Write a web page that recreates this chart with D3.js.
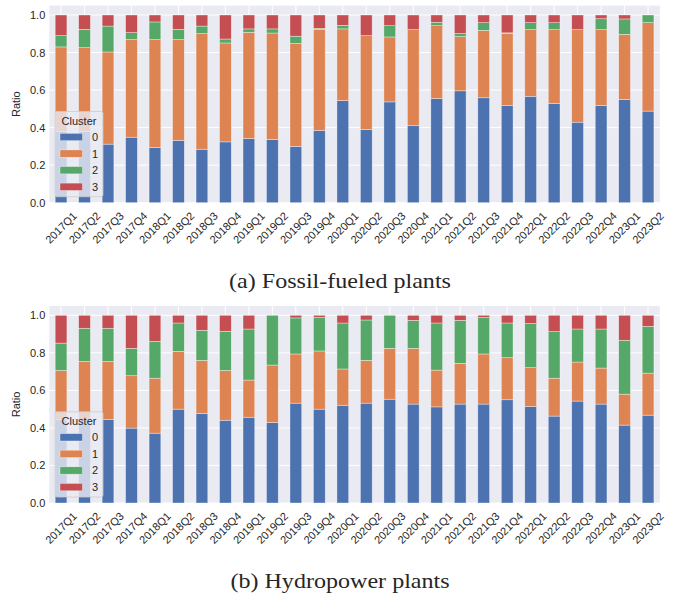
<!DOCTYPE html>
<html>
<head>
<meta charset="utf-8">
<script src="https://cdn.jsdelivr.net/npm/d3@7"></script>
<style>
  html, body { margin: 0; padding: 0; background: #fff; }
  svg { display: block; }
  text { font-family: "Liberation Sans", Arial, sans-serif; fill: #262626; }
</style>
</head>
<body>
<svg id="chart" width="675" height="599"></svg>
<script>
const categories = ["2017Q1","2017Q2","2017Q3","2017Q4","2018Q1","2018Q2","2018Q3","2018Q4",
  "2019Q1","2019Q2","2019Q3","2019Q4","2020Q1","2020Q2","2020Q3","2020Q4",
  "2021Q1","2021Q2","2021Q3","2021Q4","2022Q1","2022Q2","2022Q3","2022Q4","2023Q1","2023Q2"];
const clusters = ["0","1","2","3"];
const clusterColors = ["#4C72B0","#DD8452","#55A868","#C44E52"];
const yTicks = [0, 0.2, 0.4, 0.6, 0.8, 1.0];

// Fossil-fueled plants: ratio of each cluster per quarter
const fossil0 = [0.380,0.380,0.312,0.349,0.294,0.332,0.285,0.324,0.342,0.337,0.300,0.385,0.544,0.390,0.537,0.410,0.555,0.596,0.559,0.518,0.567,0.528,0.429,0.518,0.550,0.488];
const fossil1 = [0.450,0.446,0.491,0.520,0.575,0.537,0.616,0.527,0.566,0.567,0.548,0.539,0.382,0.500,0.346,0.512,0.388,0.289,0.359,0.384,0.355,0.394,0.493,0.404,0.347,0.471];
const fossil2 = [0.060,0.098,0.138,0.037,0.094,0.055,0.040,0.021,0.018,0.022,0.039,0.005,0.019,0.000,0.060,0.000,0.018,0.016,0.041,0.003,0.037,0.037,0.000,0.058,0.082,0.041];
const fossil3 = [0.110,0.076,0.059,0.094,0.037,0.076,0.059,0.128,0.074,0.074,0.113,0.071,0.055,0.110,0.057,0.078,0.039,0.099,0.041,0.095,0.041,0.041,0.078,0.020,0.021,0.000];

// Hydropower plants
const hydro0 = [0.443,0.443,0.445,0.399,0.372,0.500,0.477,0.441,0.457,0.429,0.532,0.500,0.521,0.532,0.553,0.527,0.512,0.527,0.527,0.550,0.514,0.463,0.543,0.527,0.415,0.468];
const hydro1 = [0.263,0.311,0.309,0.279,0.293,0.308,0.283,0.265,0.198,0.306,0.262,0.310,0.193,0.228,0.271,0.297,0.196,0.217,0.267,0.224,0.207,0.202,0.208,0.192,0.165,0.224];
const hydro2 = [0.146,0.177,0.177,0.146,0.196,0.151,0.160,0.209,0.272,0.265,0.192,0.178,0.245,0.215,0.176,0.149,0.251,0.229,0.194,0.185,0.235,0.248,0.176,0.208,0.287,0.249];
const hydro3 = [0.148,0.069,0.069,0.176,0.139,0.041,0.080,0.085,0.073,0.000,0.014,0.012,0.041,0.025,0.000,0.027,0.041,0.027,0.012,0.041,0.044,0.087,0.073,0.073,0.133,0.059];

const captionA = "(a) Fossil-fueled plants";
const captionB = "(b) Hydropower plants";

const svg = d3.select("#chart");

function panel(series, y0px, caption, captionY) {
  const x0 = 49.3, x1 = 659.8;
  const yTop = y0px - 1.05 * 187.7;
  const g = svg.append("g");
  const x = d3.scaleBand().domain(categories).range([x0, x1]).paddingInner(0.5).paddingOuter(0.25);
  const y = d3.scaleLinear().domain([0, 1.05]).range([y0px, yTop]);

  g.append("rect").attr("x", x0).attr("y", yTop).attr("width", x1 - x0).attr("height", y0px - yTop)
    .attr("fill", "#EAEAF2");

  // grid
  g.selectAll(".hg").data(yTicks).join("line")
    .attr("x1", x0).attr("x2", x1).attr("y1", d => y(d)).attr("y2", d => y(d))
    .attr("stroke", "#fff").attr("stroke-width", 1);
  g.selectAll(".vg").data(categories).join("line")
    .attr("x1", d => x(d) + x.bandwidth() / 2).attr("x2", d => x(d) + x.bandwidth() / 2)
    .attr("y1", yTop).attr("y2", y0px)
    .attr("stroke", "#fff").attr("stroke-width", 1);

  // stacked bars
  const rows = categories.map((c, i) => {
    const r = { cat: c };
    clusters.forEach((k, j) => r[k] = series[j][i]);
    return r;
  });
  const stack = d3.stack().keys(clusters)(rows);
  stack.forEach((layer, j) => {
    g.append("g").selectAll("rect").data(layer).join("rect")
      .attr("x", d => x(d.data.cat))
      .attr("width", x.bandwidth())
      .attr("y", d => y(d[1]))
      .attr("height", d => Math.max(0, y(d[0]) - y(d[1])))
      .attr("fill", clusterColors[j])
      .attr("stroke", "#fff").attr("stroke-opacity", 0.6).attr("stroke-width", 0.6);
  });

  // y axis
  const ya = g.append("g").attr("transform", `translate(${x0},0)`)
    .call(d3.axisLeft(y).tickValues(yTicks).tickFormat(d3.format(".1f")).tickSize(0).tickPadding(4));
  ya.select(".domain").remove();
  ya.selectAll("text").attr("font-size", 11).style("font-family", '"Liberation Sans", Arial, sans-serif').attr("fill", "#262626");

  g.append("text").attr("transform", `translate(20,${(y0px + yTop) / 2}) rotate(-90)`)
    .attr("text-anchor", "middle").attr("font-size", 11).text("Ratio");

  // x axis
  const xa = g.append("g").attr("transform", `translate(0,${y0px})`)
    .call(d3.axisBottom(x).tickSize(0).tickFormat(d => d));
  xa.select(".domain").remove();
  xa.selectAll("text")
    .attr("font-size", 11).style("font-family", '"Liberation Sans", Arial, sans-serif').attr("fill", "#262626")
    .attr("y", 0).attr("dy", "0.35em")
    .attr("text-anchor", "middle")
    .attr("transform", "translate(0,25) rotate(-45)");

  // legend
  const lg = g.append("g");
  const lx = 55, ly = y0px - 91.2, lw = 48, lh = 85.2;
  lg.append("rect").attr("x", lx).attr("y", ly).attr("width", lw).attr("height", lh)
    .attr("rx", 2).attr("fill", "#EAEAF2").attr("fill-opacity", 0.8)
    .attr("stroke", "#cccccc").attr("stroke-width", 0.8);
  lg.append("text").attr("x", lx + lw / 2).attr("y", ly + 13).attr("text-anchor", "middle")
    .attr("font-size", 11).text("Cluster");
  clusters.forEach((k, j) => {
    const cy = ly + 25.5 + j * 16.6;
    lg.append("rect").attr("x", 60).attr("y", cy - 3.7).attr("width", 22.5).attr("height", 7.4)
      .attr("fill", clusterColors[j]).attr("stroke", "#fff").attr("stroke-opacity", 0.6).attr("stroke-width", 0.6);
    lg.append("text").attr("x", 92).attr("y", cy).attr("dy", "0.36em").attr("font-size", 11).text(k);
  });

  svg.append("text").attr("transform", `translate(340,${captionY}) scale(1.12,1)`)
    .attr("text-anchor", "middle")
    .style("font-family", '"Liberation Serif", "Times New Roman", serif').attr("font-size", 21.5)
    .attr("fill", "#000").text(caption);
}

panel([fossil0, fossil1, fossil2, fossil3], 202.7, captionA, 287.7);
panel([hydro0, hydro1, hydro2, hydro3], 503, captionB, 587.6);
</script>
</body>
</html>
